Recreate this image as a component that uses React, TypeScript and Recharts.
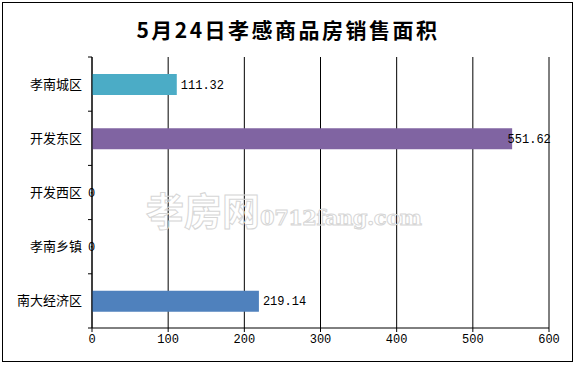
import { BarChart, Bar, XAxis, YAxis, CartesianGrid, Cell, LabelList } from 'recharts';

const districts = ['孝南城区', '开发东区', '开发西区', '孝南乡镇', '南大经济区'];
const areas = [111.32, 551.62, 0, 0, 219.14];
const barColors = ['#4BACC6', '#8064A2', '#4F81BD', '#4F81BD', '#4F81BD'];
const xTicks = [0, 100, 200, 300, 400, 500, 600];

const data = districts.map((name, i) => ({ name, area: areas[i] }));

const W = 576;
const H = 366;
const TOP = 57;
const BOTTOM = 38;
const AXIS_X = 92;
const RIGHT = 27;
const BAND_HALF = (H - TOP - BOTTOM) / districts.length / 2;

const cjk = '"Noto Sans CJK SC", "Noto Sans CJK JP", sans-serif';
const num = '"Liberation Mono", "DejaVu Sans Mono", monospace';

const CategoryTick = (props: any) => {
    const { y, payload, index } = props;
    return (
        <g>
            <text x={AXIS_X - 10} y={y} dy={4.5} textAnchor="end" fontSize={13} fill="#000" fontFamily={cjk}>
                {payload.value}
            </text>
            <line x1={AXIS_X - 4} x2={AXIS_X} y1={y - BAND_HALF} y2={y - BAND_HALF} stroke="#000" />
            {index === districts.length - 1 && (
                <line x1={AXIS_X - 4} x2={AXIS_X} y1={y + BAND_HALF} y2={y + BAND_HALF} stroke="#000" />
            )}
        </g>
    );
};

const ValueLabel = (props: any) => {
    const { x, y, width, height, value } = props;
    const text = String(value);
    const end = x + width;
    let lx = value === 0 ? end - 4 : end + 4;
    const maxX = W - RIGHT - text.length * 6.9;
    if (lx > maxX) lx = maxX;
    return (
        <text x={lx} y={y + height / 2} dy={4} fontSize={12} fill="#000" fontFamily={num}>
            {text}
        </text>
    );
};

export default function App() {
    return (
        <div style={{ position: 'absolute', left: 0, top: 0, width: W, height: H, background: '#fff' }}>
            <div style={{ position: 'absolute', left: 2, top: 2, width: W - 7, height: H - 8, border: '1.5px solid #000' }} />
            <div style={{
                position: 'absolute', left: 0, top: 14, width: W, textAlign: 'center',
                fontFamily: cjk, fontWeight: 'bold', fontSize: 21, letterSpacing: 2.5, color: '#000'
            }}>
                5月24日孝感商品房销售面积
            </div>
            <BarChart
                width={W}
                height={H}
                data={data}
                layout="vertical"
                margin={{ top: TOP, right: RIGHT, bottom: 0, left: 0 }}
                barCategoryGap={0}
            >
                <CartesianGrid horizontal={false} stroke="#000" strokeOpacity={1} />
                <XAxis
                    type="number"
                    domain={[0, 600]}
                    ticks={xTicks}
                    height={BOTTOM}
                    axisLine={{ stroke: '#000' }}
                    tickLine={{ stroke: '#000' }}
                    tickSize={4}
                    tick={{ fill: '#000', fontSize: 12, fontFamily: num }}
                    interval={0}
                />
                <YAxis
                    type="category"
                    dataKey="name"
                    width={AXIS_X}
                    axisLine={{ stroke: '#000' }}
                    tickLine={false}
                    tick={<CategoryTick />}
                    interval={0}
                />
                <Bar dataKey="area" barSize={21} minPointSize={0.01} isAnimationActive={false}>
                    {data.map((d, i) => (
                        <Cell key={d.name} fill={barColors[i]} />
                    ))}
                    <LabelList dataKey="area" content={<ValueLabel />} />
                </Bar>
            </BarChart>
            <div style={{
                position: 'absolute', left: 146, top: 181, whiteSpace: 'nowrap', pointerEvents: 'none',
                color: 'transparent', WebkitTextStroke: '1px #d6d6d6'
            }}>
                <span style={{ fontFamily: cjk, fontWeight: 'bold', fontSize: 38 }}>孝房网</span>
                <span style={{ fontFamily: '"DejaVu Serif", serif', fontWeight: 'bold', fontSize: 21, letterSpacing: -0.5 }}>0712fang.com</span>
            </div>
        </div>
    );
}
